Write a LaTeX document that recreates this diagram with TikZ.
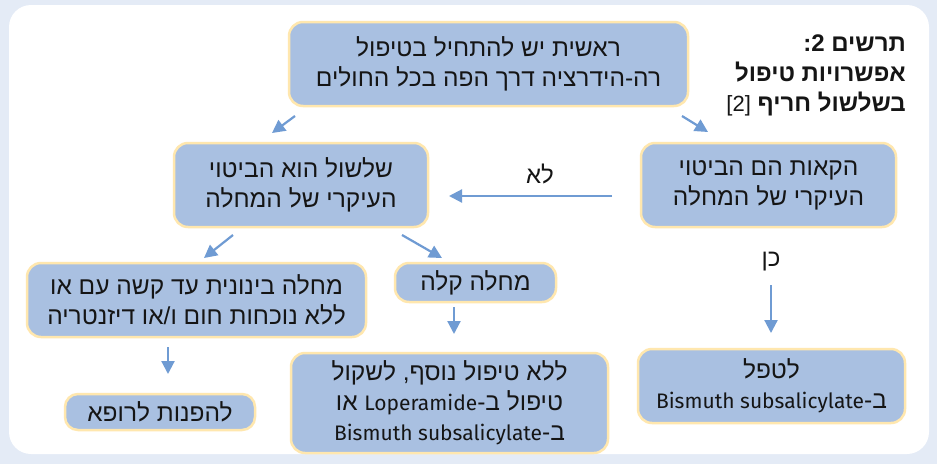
\documentclass[tikz,border=0pt]{standalone}
\usepackage{fontspec}
\setmainfont{Liberation Sans}
\newfontfamily\heb[Script=Hebrew]{Liberation Sans}
\newfontfamily\lat{Fira Sans}
\TeXXeTstate=1
\usetikzlibrary{arrows.meta}
\definecolor{boxfill}{HTML}{A9C0E1}
\definecolor{boxline}{HTML}{FFE7AE}
\definecolor{arrblue}{HTML}{6F9BD3}
\definecolor{framebg}{HTML}{E4EBF6}
\definecolor{txt}{HTML}{151515}
\newcommand\RL[1]{\beginR #1\endR}
\newcommand\LT[1]{\beginL{\lat\fontsize{21}{30}\selectfont #1}\endL{}}
\begin{document}
\begin{tikzpicture}[x=1pt,y=-1pt,
  box/.style={draw=boxline, line width=2.5pt, fill=boxfill, rounded corners=14pt,
    inner sep=0pt, align=center, text=txt, font=\heb\fontsize{24.5}{30}\selectfont},
  arr/.style={draw=arrblue, line width=2.2pt, -{Triangle[length=13pt,width=13pt]}},
  lbl/.style={font=\heb\fontsize{24}{28}\selectfont, text=txt, inner sep=0pt},
  ttl/.style={font=\heb\bfseries\fontsize{24}{30}\selectfont, align=right, inner sep=0pt, text=txt}]
\path[use as bounding box] (0,0) rectangle (937,464);
\fill[framebg] (0,0) rectangle (937,464);
\fill[white, rounded corners=22pt] (9,5) rectangle (929,454);

\node[box, minimum width=399pt, minimum height=84pt] (top) at (488.5,64)
  {\RL{ראשית יש להתחיל בטיפול}\\\RL{רה-הידרציה דרך הפה בכל החולים}};
\node[box, minimum width=254pt, minimum height=84pt] (diar) at (301,185)
  {\RL{שלשול הוא הביטוי}\\\RL{העיקרי של המחלה}};
\node[box, minimum width=255pt, minimum height=84pt] (vomit) at (768.5,185)
  {\RL{הקאות הם הביטוי}\\\RL{העיקרי של המחלה}};
\node[box, minimum width=339pt, minimum height=74pt] (severe) at (196.5,300)
  {\RL{מחלה בינונית עד קשה עם או}\\\RL{ללא נוכחות חום ו/או דיזנטריה}};
\node[box, minimum width=161pt, minimum height=39pt] (mild) at (475.5,282.5)
  {\RL{מחלה קלה}};
\node[box, minimum width=317pt, minimum height=100pt] (lop) at (449.5,403)
  {\RL{ללא טיפול נוסף, לשקול}\\\RL{טיפול ב-\LT{Loperamide} או}\\\RL{ב-\LT{Bismuth subsalicylate}}};
\node[box, minimum width=190pt, minimum height=36pt, rounded corners=13pt] (doc) at (160,412)
  {\RL{להפנות לרופא}};
\node[box, minimum width=267pt, minimum height=74pt] (bism) at (771.5,386)
  {\RL{לטפל}\\\RL{ב-\LT{Bismuth subsalicylate}}};

\node[ttl, anchor=north east] (title) at (906,35)
  {\RL{תרשים 2:}\\\RL{אפשרויות טיפול}\\\RL{בשלשול חריף \LT{\mdseries\heb\fontsize{22}{30}\selectfont[2]}}};

\node[lbl] (no) at (540,174) {\RL{לא}};
\node[lbl] (yes) at (771,262) {\RL{כן}};

\coordinate (a1s) at (295,116); \coordinate (a1e) at (272,133);
\coordinate (a2s) at (682,116); \coordinate (a2e) at (708,132);
\coordinate (a3s) at (612,196); \coordinate (a3e) at (449,196);
\coordinate (a4s) at (233,235); \coordinate (a4e) at (204,258);
\coordinate (a5s) at (402,235); \coordinate (a5e) at (442,258);
\coordinate (a6s) at (454,307); \coordinate (a6e) at (454,334);
\coordinate (a7s) at (168,347); \coordinate (a7e) at (168,374);
\coordinate (a8s) at (771,285); \coordinate (a8e) at (771,333);
\foreach \i in {1,...,8} { \draw[arr] (a\i s) -- (a\i e); }
\end{tikzpicture}
\end{document}
